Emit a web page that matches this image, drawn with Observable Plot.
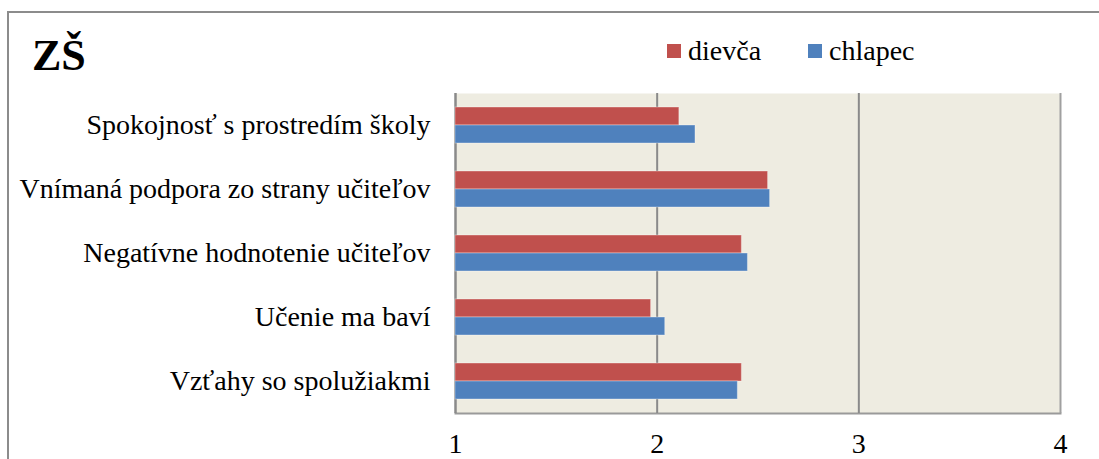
<!DOCTYPE html>
<html><head><meta charset="utf-8">
<script src="https://cdn.jsdelivr.net/npm/d3@7"></script>
<script src="https://cdn.jsdelivr.net/npm/@observablehq/plot@0.6"></script>
<style>
body{margin:0;background:#fff;}
#wrap{position:relative;width:1099px;height:459px;overflow:hidden;font-family:'Liberation Serif','Tinos','Times New Roman','Times','DejaVu Serif','Noto Serif',serif;color:#000;}
#border{position:absolute;left:7px;top:11px;width:1200px;height:600px;border-left:2px solid #8c8c8c;border-top:2px solid #8c8c8c;}
#chart{position:absolute;left:0;top:0;}
#title{position:absolute;left:32px;top:30px;font-size:44px;font-weight:bold;line-height:normal;}
.leg{position:absolute;top:35px;font-size:28px;line-height:normal;display:flex;align-items:center;}
.leg span.sw{display:inline-block;width:14px;height:14px;margin-right:7px;}
</style>
</head><body>
<div id="wrap">
  <div id="border"></div>
  <div id="chart"></div>
  <div id="title">ZŠ</div>
  <div id="legend"></div>
</div>
<script>
const categories = ["Spokojnosť s prostredím školy","Vnímaná podpora zo strany učiteľov","Negatívne hodnotenie učiteľov","Učenie ma baví","Vzťahy so spolužiakmi"];
const series = ["dievča","chlapec"];
const dievca = [2.11,2.55,2.42,1.97,2.42];
const chlapec = [2.19,2.56,2.45,2.04,2.40];
const xTicks = [1,2,3,4];
const colors = ["#C0504D","#4F81BD"];
const FONT = "'Liberation Serif','Tinos','Times New Roman','Times','DejaVu Serif','Noto Serif',serif";

const rows = [];
categories.forEach((c,i)=>{
  rows.push({category:c, series:series[0], value:dievca[i]});
  rows.push({category:c, series:series[1], value:chlapec[i]});
});

const chart = Plot.plot({
  width:1099, height:459,
  marginLeft:455, marginRight:39, marginTop:92, marginBottom:45,
  style:{fontFamily:FONT, fontSize:"28px", color:"#000", background:"transparent", overflow:"visible"},
  x:{domain:[1,4], ticks:xTicks, tickSize:0, tickPadding:20, label:null, tickFormat:d=>String(d)},
  y:{domain:series, paddingInner:0, paddingOuter:0.74, axis:null},
  fy:{domain:categories, padding:0, label:null, axis:"left", tickSize:0, tickPadding:25},
  color:{domain:series, range:colors},
  marks:[
    Plot.frame({fill:"#EEECE1", stroke:"none", facet:"super"}),
    Plot.frame({anchor:"bottom", stroke:"#9a9a9a", strokeWidth:2, facet:"super"}),
    Plot.ruleX([2,3], {stroke:"#8a8a8a", strokeWidth:2}),
    Plot.ruleX([4], {stroke:"#a0a0a0", strokeWidth:2}),
    Plot.ruleX([1], {stroke:"#8a8a8a", strokeWidth:2.5}),
    Plot.barX(rows, {x1:1, x2:"value", y:"series", fy:"category", fill:"series", stroke:"#ffffff", strokeOpacity:0.35, strokeWidth:1})
  ]
});
chart.querySelectorAll("text").forEach(t=>t.setAttribute("font-family", FONT));
document.getElementById("chart").appendChild(chart);

const legend = document.getElementById("legend");
const legX = [667, 808];
series.forEach((s,i)=>{
  const d = document.createElement("div");
  d.className = "leg";
  d.style.left = legX[i] + "px";
  d.innerHTML = `<span class="sw" style="background:${colors[i]}"></span><span>${s}</span>`;
  legend.appendChild(d);
});
</script>
</body></html>
